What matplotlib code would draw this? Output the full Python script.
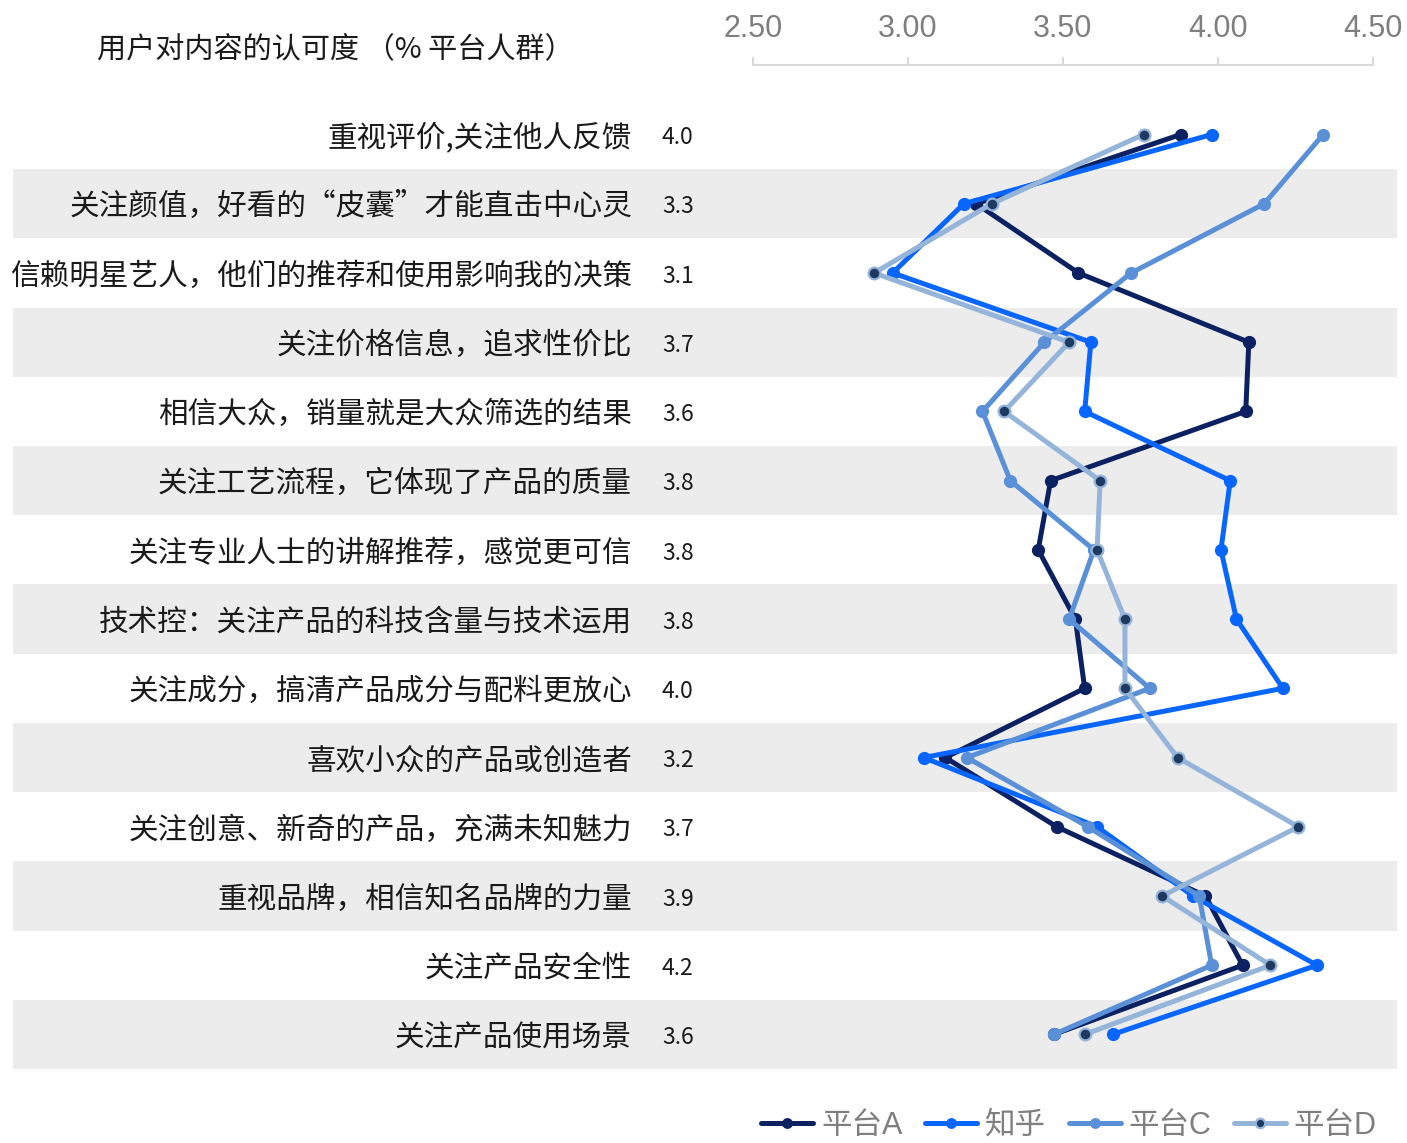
import matplotlib
matplotlib.use("Agg")
import matplotlib.pyplot as plt
from matplotlib.patches import Rectangle
from matplotlib.transforms import blended_transform_factory

plt.rcParams['font.family'] = ['Noto Sans CJK SC', 'DejaVu Sans']

# ---------- data ----------
categories = [
    "重视评价,关注他人反馈",
    "关注颜值，好看的“皮囊”才能直击中心灵",
    "信赖明星艺人，他们的推荐和使用影响我的决策",
    "关注价格信息，追求性价比",
    "相信大众，销量就是大众筛选的结果",
    "关注工艺流程，它体现了产品的质量",
    "关注专业人士的讲解推荐，感觉更可信",
    "技术控：关注产品的科技含量与技术运用",
    "关注成分，搞清产品成分与配料更放心",
    "喜欢小众的产品或创造者",
    "关注创意、新奇的产品，充满未知魅力",
    "重视品牌，相信知名品牌的力量",
    "关注产品安全性",
    "关注产品使用场景",
]
overall = ["4.0", "3.3", "3.1", "3.7", "3.6", "3.8", "3.8",
           "3.8", "4.0", "3.2", "3.7", "3.9", "4.2", "3.6"]

platform_a = [3.88, 3.22, 3.55, 4.10, 4.09, 3.46, 3.42,
              3.54, 3.57, 3.12, 3.48, 3.96, 4.08, 3.47]
zhihu = [3.98, 3.18, 2.95, 3.59, 3.57, 4.04, 4.01,
         4.06, 4.21, 3.05, 3.61, 3.92, 4.32, 3.66]
platform_c = [4.34, 4.15, 3.72, 3.44, 3.24, 3.33, 3.60,
              3.52, 3.78, 3.19, 3.58, 3.94, 3.98, 3.47]
platform_d = [3.76, 3.27, 2.89, 3.52, 3.31, 3.62, 3.61,
              3.70, 3.70, 3.87, 4.26, 3.82, 4.17, 3.57]

series_names = ["平台A", "知乎", "平台C", "平台D"]
xticks = [2.5, 3.0, 3.5, 4.0, 4.5]

# ---------- figure ----------
W, H = 1407, 1143
fig = plt.figure(figsize=(W / 100, H / 100), dpi=100)

top_px, bot_px = 99.9, 1069.1
ax = fig.add_axes([753.3 / W, 1 - bot_px / H, 619.4 / W, (bot_px - top_px) / H])
ax.patch.set_visible(False)

n = len(categories)
rows = list(range(n))
ax.set_ylim(n - 0.5, -0.5)
ax.set_xlim(2.5, 4.5)

# alternating row bands across the full width
band_tr = blended_transform_factory(fig.transFigure, ax.transData)
for i in rows:
    if i % 2 == 1:
        ax.add_patch(Rectangle((13 / W, i - 0.5), (1397 - 13) / W, 1,
                               transform=band_tr, facecolor="#ececec",
                               edgecolor="none", clip_on=False, zorder=0))

# lines
ax.plot(platform_a, rows, color="#0b2161", lw=3.6, marker="o", ms=8.5,
        label=series_names[0], zorder=3, solid_capstyle="round")
ax.plot(zhihu, rows, color="#0866ff", lw=3.6, marker="o", ms=8.5,
        label=series_names[1], zorder=3, solid_capstyle="round")
ax.plot(platform_c, rows, color="#5a90d8", lw=3.6, marker="o", ms=8.5,
        label=series_names[2], zorder=3, solid_capstyle="round")
ax.plot(platform_d, rows, color="#95b4da", lw=3.6, marker="o", ms=8.5,
        mfc="#1f3a60", mec="#95b4da", mew=1.6,
        label=series_names[3], zorder=3, solid_capstyle="round")

# row labels and overall scores (nudged a touch down to sit on the row centre)
dy = 0.045
for i in rows:
    ax.text(632 / W, i + dy, categories[i], transform=band_tr, ha="right",
            va="center", fontsize=21.3, color="#1a1a1a")
    ax.text(662 / W, i + dy, overall[i], transform=band_tr, ha="left",
            va="center", fontsize=16.5, color="#1a1a1a")

# top axis
for s in ("left", "right", "bottom"):
    ax.spines[s].set_visible(False)
ax.spines["top"].set_position(("outward", 25))
ax.spines["top"].set_color("#d9d9d9")
ax.spines["top"].set_linewidth(1.5)
ax.xaxis.set_ticks_position("top")
ax.set_xticks(xticks)
ax.set_xticklabels([f"{t:.2f}" for t in xticks])
ax.tick_params(axis="x", direction="out", length=6, width=1.5,
               color="#d9d9d9", labelcolor="#7f7f7f", labelsize=22, pad=9)
for lbl in ax.get_xticklabels():
    lbl.set_fontfamily(["Liberation Sans", "DejaVu Sans"])
ax.set_yticks([])

fig.text(97 / W, 1 - 49 / H, "用户对内容的认可度 （% 平台人群）",
         ha="left", va="center", fontsize=21, color="#1a1a1a")

leg = fig.legend(loc="center", bbox_to_anchor=(1069 / W, 1 - 1126 / H),
                 ncol=4, frameon=False, handlelength=1.7, handletextpad=0.25,
                 columnspacing=0.75, markerscale=0.8,
                 prop={"family": ["Liberation Sans", "Noto Sans CJK SC"], "size": 22})
for t in leg.get_texts():
    t.set_color("#7f7f7f")

fig.savefig("out.png", dpi=100)
